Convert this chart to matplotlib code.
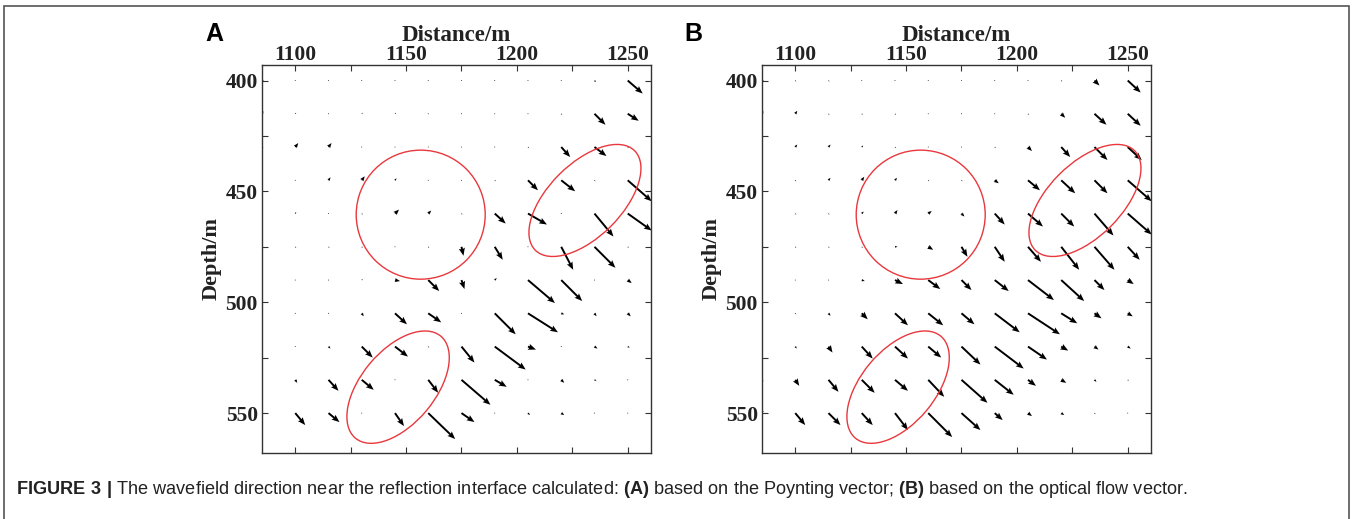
import numpy as np
import matplotlib
matplotlib.use("Agg")
import matplotlib.pyplot as plt
from matplotlib.patches import Ellipse, Circle, Rectangle

plt.rcParams["mathtext.fontset"] = "custom"
plt.rcParams["mathtext.bf"] = "Liberation Sans:bold"
plt.rcParams["mathtext.rm"] = "Liberation Sans"

# grid of the vector field (m)
distance = [1085, 1100, 1115, 1130, 1145, 1160, 1175, 1190, 1205, 1220, 1235, 1250]
depth = [400, 415, 430, 445, 460, 475, 490, 505, 520, 535, 550]

# Poynting vector (A): rows = depth, columns = distance
u_a = [
    [2, .3, .3, .3, .3, .3, .3, .3, .3, .3, 1.5, 15],
    [1.5, 1, .3, 1, 1, .3, .3, .3, .3, 1, 11, 11],
    [1.5, 3, 3, .3, .3, .3, .3, .3, 1, 9, 12, 1],
    [1, .3, 2, 3, 1.5, .3, .3, 1, 10, 14, 1, 24],
    [.3, 1, .3, 1, 4, 3, 1, 11, 19, .3, 19, 24],
    [.3, 1, 1, 1, .3, 1, 2, 8, .3, 12, 21, 1],
    [.3, .3, .3, 1, 5, 11, 3, 2, 27, 21, .3, 4],
    [.3, .3, .3, 2, 12, 13, .3, 21, 30, 3, 2, 3],
    [.3, .3, 2, 11, 13, 1, 13, 31, 8, .3, 3, 2],
    [.3, 2, 10, 12, .3, 10, 29, 12, .3, 3, 2, .3],
    [-3, 10, 11, .3, 9, 27, 13, .3, 2, 3, .3, .3],
]
v_a = [
    [.5, .3, .3, .3, .3, .3, .3, .3, .3, .3, 1.5, 13],
    [-2.5, -1, .3, -1, -1, .3, .3, .3, .3, 1, 11, 7],
    [.5, -4, -4, .3, .3, .3, .3, .3, 1, 10, 9, 1],
    [-1, .3, -3, -4, -2, .3, .3, 1, 10, 11, 1, 21],
    [.3, -1.5, .3, 1, -4, -3, 1, 10, 11, .3, 23, 17],
    [.3, 1, 1, 1, .3, 1, 9, 13, .3, 23, 21, 1],
    [.3, .3, .3, -1, 1, 11, 9, -2, 23, 21, .3, 3],
    [.3, .3, .3, 3, 11, 9, .3, 21, 19, 1, 3, 3],
    [.3, .3, 2, 11, 10, 1, 16, 23, 3, .3, 2, 1],
    [.3, 3, 11, 10, .3, 13, 25, 7, .3, 3, 1, .3],
    [-3, 12, 9, .3, 13, 26, 9, .3, 2, 2, .3, .3],
]

# optical flow vector (B)
u_b = [
    [2, 1, 1, .3, .3, .3, .3, .3, .3, 1, 5, 13],
    [1.5, 2, 1, 1, 1, .3, .3, .3, 1, 4, 12, 13],
    [1, 2, 2, 1.5, 1, .3, .3, 1, 4, 9, 13, 14],
    [1, 1, 2, 2.5, 2, 1, 1, 4, 12, 14, 13, 24],
    [1, 1, 1, 2, 2.5, 3.5, 3, 10, 15, 13, 19, 24],
    [1, 1, 1, 1, 2.5, 5, 6, 10, 13, 18, 20, 12],
    [.3, .3, .3, 3, 8, 12, 10, 14, 26, 23, 10, 6],
    [.3, 1, 2, 6, 13, 15, 13, 25, 32, 16, 7, 5],
    [.3, 1.5, 4, 11, 13, 13, 19, 29, 19, 7, 4, 3],
    [1.5, 4, 10, 13, 13, 16, 26, 19, 8, 5, 2, 1],
    [-4, 10, 12, 11, 13, 24, 19, 8, 4, 3, 1, .3],
]
v_b = [
    [.5, 1, 1, .3, .3, .3, .3, .3, .3, 1, 5, 12],
    [-2.5, -3, 1, 1, 1, .3, .3, .3, 1, 4, 11, 12],
    [-1, -2.5, -2.5, -1.5, 1, .3, .3, 1, 4, 10, 13, 13],
    [1, 1, -2.5, -3.5, -2.5, 1, 1, 3, 10, 13, 13, 21],
    [1, 1, 1, -2, -3.5, -2.5, 3, 11, 13, 13, 22, 21],
    [1, 1, 1, 1, 0, 3, 10, 15, 15, 23, 23, 13],
    [.3, .3, .3, 1, 4, 9, 10, 11, 20, 21, 10, 4],
    [.3, 1, 2.5, 6, 12, 12, 11, 19, 21, 10, 5, 3],
    [.3, 2, 6, 12, 12, 11, 18, 22, 13, 4, 3, 2],
    [1.5, 6, 12, 13, 11, 17, 23, 15, 6, 3, 2, 1],
    [-5, 12, 12, 12, 17, 24, 17, 7, 3, 2, 1, .3],
]

# marked zones: (centre x, centre depth, width, height, angle)
circle_zone = (1156.6, 460.5, 29.1)
ellipse_zones = [(1230.7, 454.1, 63.4, 33.0, -45), (1146.4, 538.3, 60.0, 33.2, -50)]

serif = {"family": "Liberation Serif", "weight": "bold"}

fig = plt.figure(figsize=(13.52, 5.19), dpi=100)
W, H = 1352, 519


def panel(left, u, v, letter, letter_x):
    ax = fig.add_axes([left / W, 1 - 453 / H, 389 / W, 388 / H])
    X, Y = np.meshgrid(distance, depth)
    ax.quiver(X, Y, np.array(u), np.array(v), angles="xy", scale_units="xy",
              scale=2.22, width=0.005, headwidth=3.2, headlength=4.0,
              headaxislength=3.5, minshaft=1.0, minlength=0.5, color="k")
    cx, cy, r = circle_zone
    ax.add_patch(Circle((cx, cy), r, fill=False, ec="#e8383d", lw=1.0))
    for ex, ey, ew, eh, ang in ellipse_zones:
        ax.add_patch(Ellipse((ex, ey), ew, eh, angle=ang, fill=False,
                             ec="#e8383d", lw=1.0))
    ax.set_xlim(1085, 1260.5)
    ax.set_ylim(568, 393)
    ax.set_xticks([1100, 1150, 1200, 1250])
    ax.set_xticks([1125, 1175, 1225], minor=True)
    ax.set_yticks([400, 450, 500, 550])
    ax.set_yticks([425, 475, 525], minor=True)
    ax.xaxis.tick_top()
    ax.xaxis.set_label_position("top")
    ax.tick_params(which="both", direction="in", top=True, bottom=True,
                   left=True, right=True, labeltop=True, labelbottom=False,
                   length=4, width=0.8, color="#333")
    ax.tick_params(axis="x", pad=0)
    ax.tick_params(axis="y", pad=3)
    for lab in ax.get_xticklabels() + ax.get_yticklabels():
        lab.set_fontfamily("Liberation Serif")
        lab.set_fontweight("bold")
        lab.set_fontsize(15.5)
        lab.set_color("#222")
    for s in ax.spines.values():
        s.set_linewidth(1.0)
        s.set_color("#333")
    ax.set_xlabel("Distance/m", fontsize=16.5, labelpad=3, color="#222", **serif)
    ax.set_ylabel("Depth/m", fontsize=16, labelpad=3, color="#222", **serif)
    fig.text(letter_x / W, 1 - 34 / H, letter, fontsize=18, weight="bold",
             family="Liberation Sans", ha="left", va="center")
    return ax


panel(262, u_a, v_a, "A", 205)
panel(762, u_b, v_b, "B", 684)

fig.patches.append(Rectangle((4 / W, -0.05), (1349 - 4) / W, 1.05 - 6 / H,
                             transform=fig.transFigure, fill=False,
                             ec="#555", lw=1.2))

caption = (r"$\mathbf{FIGURE\ 3\ |}$ The wavefield direction near the reflection "
           r"interface calculated: $\mathbf{(A)}$ based on the Poynting vector; "
           r"$\mathbf{(B)}$ based on the optical flow vector.")
fig.text(16 / W, 1 - 489 / H, caption, fontsize=13.1, family="Liberation Sans",
         ha="left", va="center", color="#222")

fig.savefig("out.png", dpi=100)
